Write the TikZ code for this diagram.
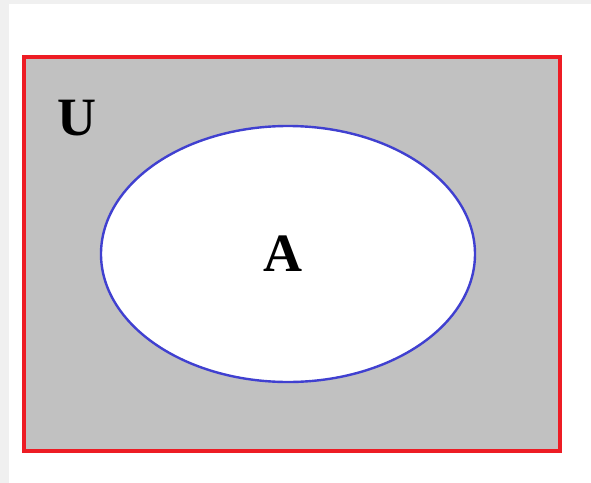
\documentclass[tikz,border=0pt]{standalone}
\usepackage{fontspec}
\setmainfont{Liberation Serif}
\usepackage{xcolor}
\usetikzlibrary{shapes.geometric}

\definecolor{setgray}{RGB}{193,193,193}
\definecolor{setred}{RGB}{237,28,36}
\definecolor{setblue}{RGB}{64,64,208}
\definecolor{edgegray}{RGB}{240,240,240}

\begin{document}
\begin{tikzpicture}[
    x=0.5pt, y=-0.5pt,
    universe/.style={draw=setred, line width=2pt, fill=setgray, minimum width=268pt, minimum height=197pt, inner sep=0pt},
    setA/.style={ellipse, draw=setblue, line width=1.2pt, fill=white, minimum width=187pt, minimum height=128pt, inner sep=0pt},
    lbl/.style={font=\fontsize{27}{27}\selectfont\bfseries, text=black, inner sep=0pt}
]
% page and its faint frame
\fill[edgegray] (0,0) rectangle (591,483);
\fill[white] (9,4) rectangle (591,483);
\useasboundingbox (0,0) rectangle (591,483);

\node[universe] (U) at (292,254) {};
\node[setA] (A) at (288,254) {};

\node[lbl] (Ulabel) at (77,118) {U};
\node[lbl] (Alabel) at (283,254) {A};

\end{tikzpicture}
\end{document}
